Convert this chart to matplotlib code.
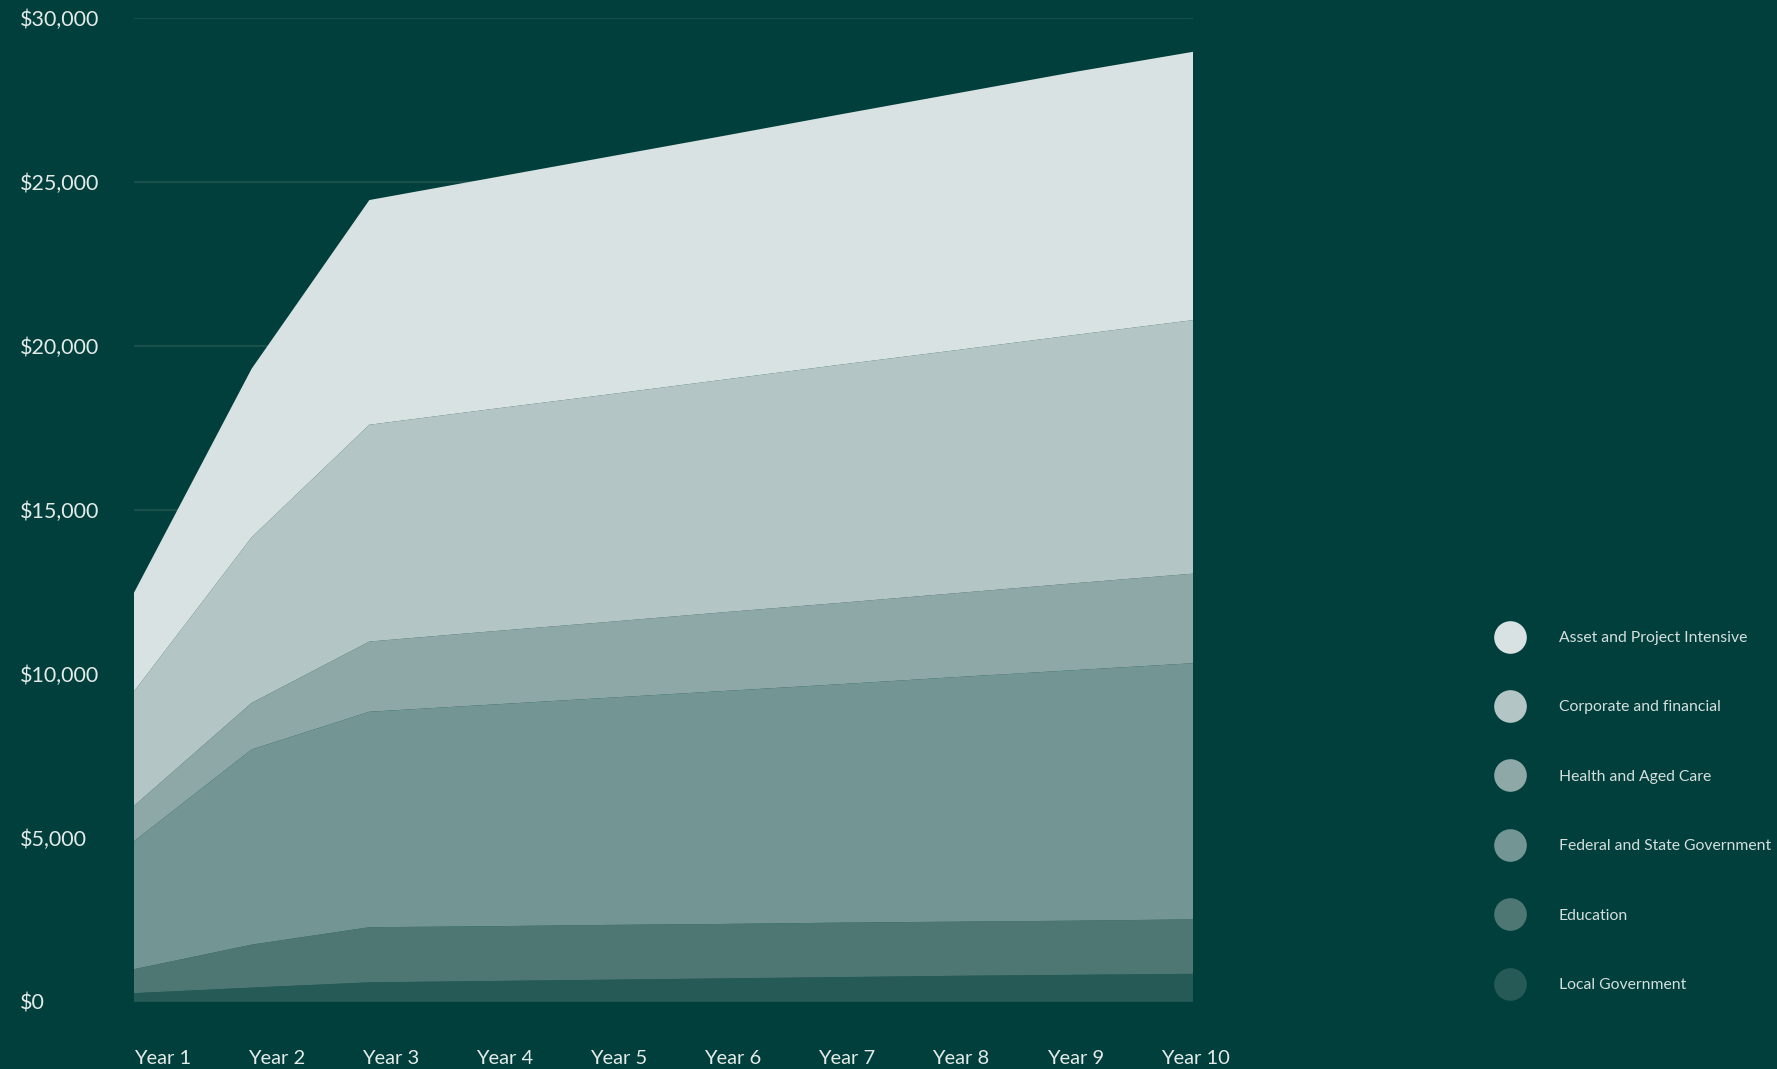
import numpy as np
import matplotlib
matplotlib.use("Agg")
import matplotlib.pyplot as plt
from matplotlib.lines import Line2D
from matplotlib.ticker import FuncFormatter

plt.rcParams['font.family'] = ['Lato', 'DejaVu Sans']

years = ["Year 1", "Year 2", "Year 3", "Year 4", "Year 5",
         "Year 6", "Year 7", "Year 8", "Year 9", "Year 10"]

# stacked from bottom to top
local_government = [260, 430, 590, 630, 670, 710, 750, 790, 820, 850]
education = [730, 1310, 1680, 1670, 1670, 1660, 1660, 1650, 1650, 1660]
federal_state = [3900, 5950, 6570, 6750, 6920, 7100, 7270, 7460, 7640, 7810]
health_aged_care = [1080, 1420, 2140, 2230, 2310, 2400, 2480, 2560, 2650, 2730]
corporate_financial = [3490, 5050, 6610, 6770, 6930, 7090, 7260, 7410, 7570, 7730]
asset_project = [3010, 5140, 6850, 7040, 7240, 7430, 7630, 7830, 8020, 8180]

series_names = ["Local Government", "Education", "Federal and State Government",
                "Health and Aged Care", "Corporate and financial",
                "Asset and Project Intensive"]
series_values = [local_government, education, federal_state,
                 health_aged_care, corporate_financial, asset_project]
colors = ["#265a57", "#4e7774", "#739593", "#8da8a6", "#b3c5c4", "#d9e2e2"]

y_ticks = [0, 5000, 10000, 15000, 20000, 25000, 30000]

BG = "#003f3c"
TEXT = "#e3eae8"

W, H = 1777, 1069
fig = plt.figure(figsize=(W / 100, H / 100), dpi=100, facecolor=BG)
left, right = 134 / W, 1193 / W
bottom, top = 1 - 1001.7 / H, 1 - 17.7 / H
ax = fig.add_axes([left, bottom, right - left, top - bottom], facecolor=BG)

x = np.arange(len(years))
ax.stackplot(x, *series_values, colors=colors, linewidth=0, zorder=3)

ax.set_xlim(0, len(years) - 1)
ax.set_ylim(0, 30000)
ax.set_yticks(y_ticks)
ax.yaxis.set_major_formatter(FuncFormatter(lambda v, p: f"${v:,.0f}"))
ax.grid(axis='y', color="#1b4f4b", linewidth=1.6, zorder=0)
ax.grid(axis='x', visible=False)
ax.set_axisbelow(True)
for s in ax.spines.values():
    s.set_visible(False)

# y tick labels left aligned at left edge of figure
ax.tick_params(axis='y', length=0, pad=114 * 0.72, labelsize=15.5, labelcolor=TEXT)
for lbl in ax.get_yticklabels():
    lbl.set_horizontalalignment('left')

# x tick labels, left aligned
label_step = 114.1 / 117.7
ax.set_xticks(x * label_step)
ax.set_xticklabels(years)
ax.tick_params(axis='x', length=0, pad=34.5, labelsize=14.5, labelcolor=TEXT)
for lbl in ax.get_xticklabels():
    lbl.set_horizontalalignment('left')

handles = [Line2D([0], [0], marker='o', linestyle='none', markersize=23.5,
                  markerfacecolor=c, markeredgewidth=0)
           for c in colors[::-1]]
fig.legend(handles, series_names[::-1], loc='upper left',
           bbox_to_anchor=(1494.3 / W, 1 - 631 / H), bbox_transform=fig.transFigure,
           frameon=False, fontsize=11.3, labelcolor="#d5dfdd",
           handlelength=2.0, handletextpad=2.12, labelspacing=3.53,
           borderpad=0, borderaxespad=0)

fig.savefig("out.png", dpi=100, facecolor=BG)
